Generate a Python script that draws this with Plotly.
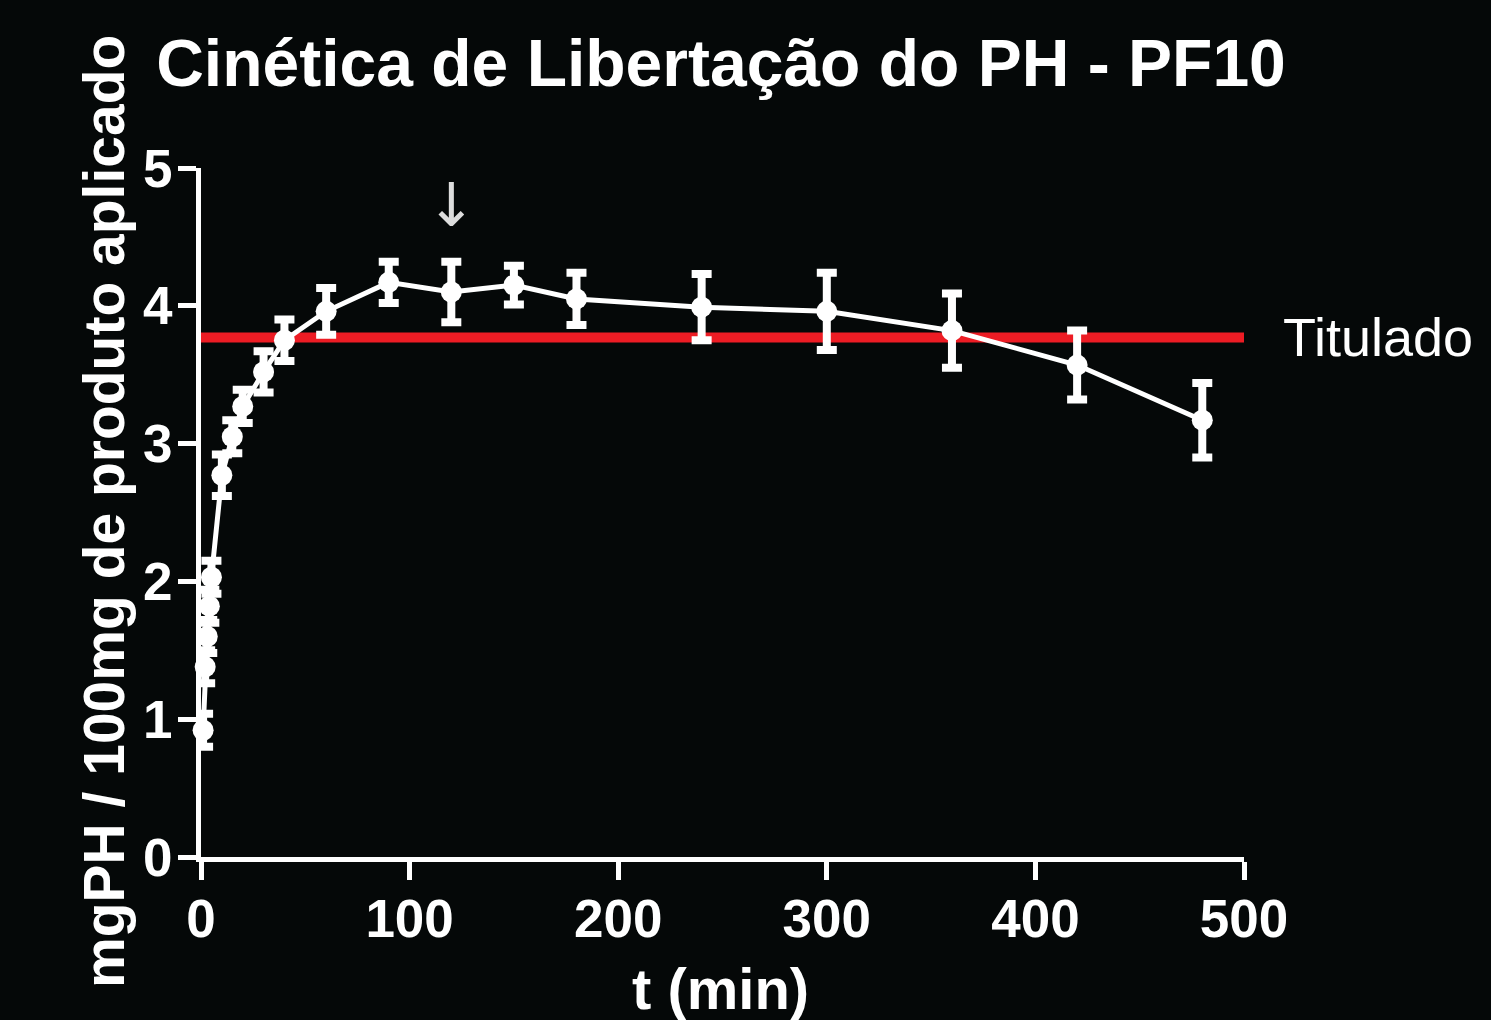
import plotly.graph_objects as go

# Data
t_min = [1, 2, 3, 4, 5, 10, 15, 20, 30, 40, 60, 90, 120, 150, 180, 240, 300, 360, 420, 480]
mg_ph = [0.92, 1.38, 1.60, 1.82, 2.03, 2.77, 3.05, 3.27, 3.52, 3.75, 3.96, 4.17, 4.10, 4.15, 4.05, 3.99, 3.96, 3.82, 3.57, 3.17]
err = [0.12, 0.12, 0.12, 0.12, 0.12, 0.15, 0.12, 0.12, 0.15, 0.15, 0.17, 0.15, 0.22, 0.14, 0.19, 0.24, 0.28, 0.27, 0.25, 0.27]
titulado_value = 3.77
titulado_x = [0, 500]
x_ticks = [0, 100, 200, 300, 400, 500]
y_ticks = [0, 1, 2, 3, 4, 5]

BG = "#050808"
FONT = "Liberation Sans, Arial, sans-serif"

fig = go.Figure()

fig.add_trace(go.Scatter(
    x=titulado_x, y=[titulado_value] * len(titulado_x),
    mode="lines", line=dict(color="#ed1c24", width=10),
    showlegend=False, hoverinfo="skip", cliponaxis=False,
))

fig.add_trace(go.Scatter(
    x=t_min, y=mg_ph, mode="lines+markers",
    line=dict(color="white", width=5),
    marker=dict(color="white", size=21, symbol="circle", line=dict(width=0)),
    error_y=dict(type="data", array=err, visible=True, color="white", thickness=8, width=10),
    showlegend=False, cliponaxis=False,
))

axis_common = dict(
    showline=True, linecolor="white", linewidth=5,
    ticks="outside", tickcolor="white", tickwidth=5, ticklen=18,
    showgrid=False, zeroline=False,
    tickfont=dict(family=FONT, size=53, color="white", weight="bold"),
)

fig.update_xaxes(range=[0, 500], tickvals=x_ticks, ticktext=[str(v) for v in x_ticks],
                 ticklabelstandoff=-7, **axis_common)
fig.update_yaxes(range=[0, 5], tickvals=y_ticks, ticktext=[str(v) for v in y_ticks],
                 ticklabelstandoff=-5, **axis_common)

fig.update_layout(
    width=1491, height=1020,
    paper_bgcolor=BG, plot_bgcolor=BG,
    margin=dict(l=201, r=247, t=168, b=163),
    title=dict(text="Cinética de Libertação do PH - PF10",
               font=dict(family=FONT, size=66, color="white", weight="bold"),
               x=721 / 1491, xanchor="center", xref="container",
               y=1 - 40 / 1020, yanchor="top", yref="container"),
    annotations=[
        dict(text="mgPH / 100mg de produto aplicado", textangle=-90,
             xref="paper", yref="paper", x=(104 - 201) / 1043, y=(857 - 512) / 689,
             xanchor="center", yanchor="middle", showarrow=False,
             font=dict(family=FONT, size=57, color="white", weight="bold")),
        dict(text="t (min)", xref="paper", yref="paper",
             x=(720 - 201) / 1043, y=(857 - 988) / 689,
             xanchor="center", yanchor="middle", showarrow=False,
             font=dict(family=FONT, size=58, color="white", weight="bold")),
        dict(text="Titulado", xref="paper", yref="y",
             x=(1281 - 201) / 1043, y=titulado_value,
             xanchor="left", yanchor="middle", showarrow=False,
             font=dict(family=FONT, size=54, color="white")),
        dict(text="↓", xref="x", yref="y", x=120, y=4.73,
             xanchor="center", yanchor="middle", showarrow=False,
             font=dict(family="DejaVu Sans", size=60, color="#dddddd")),
    ],
)

fig.write_html(
    "out.html",
    config={"displayModeBar": False},
    post_script="document.body.style.margin='0';document.body.style.background='#050808';",
)
